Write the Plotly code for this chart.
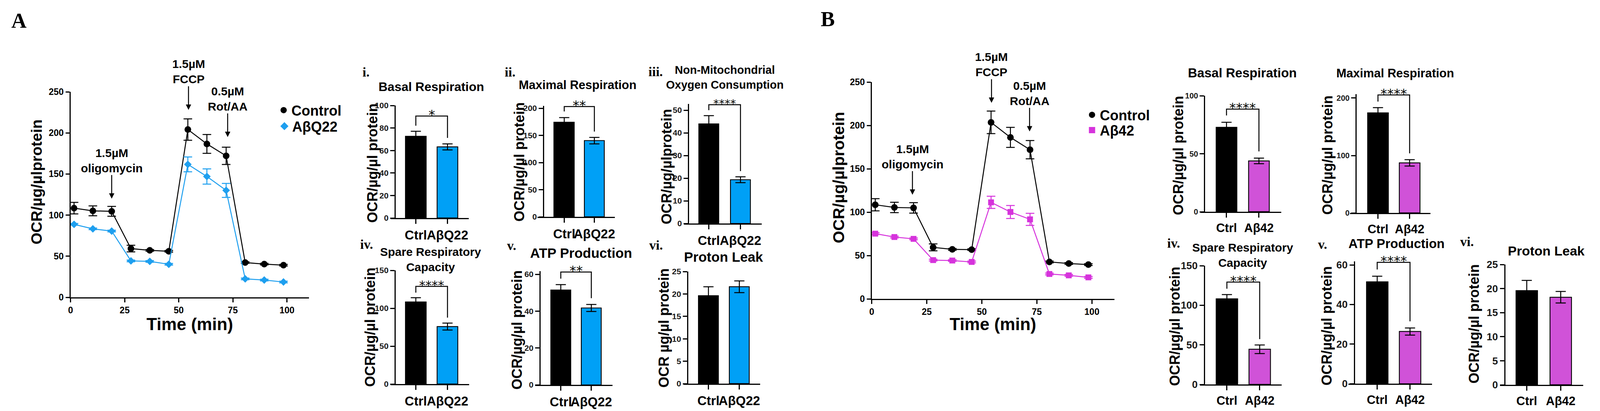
import plotly.graph_objects as go

W, H = 4194, 1052   # reference picture size used to convert measured positions into fractions

# ---------------- data: Seahorse time course ----------------
time_min = [1.6, 10.3, 19.0, 27.9, 36.6, 45.4, 54.2, 63.0, 71.9, 80.7, 89.5, 98.4]

ocr_ctrl_A = [108.5, 105.2, 104.6, 59.3, 57.1, 56.0, 204.1, 186.6, 172.1, 42.3, 40.4, 39.1]
ocr_ctrl_A_sem = [7.0, 6.0, 6.0, 4.0, 1.0, 1.0, 13.0, 11.5, 10.5, 1.0, 1.0, 1.0]
ocr_q22_A = [88.8, 83.3, 80.6, 44.3, 43.7, 40.2, 161.7, 147.0, 130.1, 22.4, 21.0, 18.6]
ocr_q22_A_sem = [1.0, 1.0, 1.0, 1.0, 1.0, 1.0, 9.0, 9.3, 8.5, 1.0, 1.0, 1.0]

ocr_ctrl_B = [108.5, 105.4, 104.9, 59.4, 57.1, 56.8, 203.5, 186.2, 172.0, 42.6, 40.8, 39.5]
ocr_ctrl_B_sem = [7.0, 6.0, 6.0, 4.0, 1.0, 1.0, 13.0, 11.5, 10.5, 1.0, 1.0, 1.0]
ocr_a42_B = [75.2, 71.3, 69.2, 44.7, 44.2, 42.6, 111.3, 100.2, 91.7, 28.7, 27.1, 24.8]
ocr_a42_B_sem = [1.0, 1.0, 1.0, 1.0, 1.0, 1.0, 7.0, 7.5, 7.0, 1.0, 1.0, 1.0]

injection_labels = ["1.5µM<br>oligomycin", "1.5µM<br>FCCP", "0.5µM<br>Rot/AA"]
injection_time_A = [19.0, 54.5, 72.6]
injection_arrow_y_A = [120, 228, 195]
injection_time_B = [18.5, 54.4, 71.7]
injection_arrow_y_B = [120, 226, 193]

time_ticks = [0, 25, 50, 75, 100]
ocr_ticks = [0, 50, 100, 150, 200, 250]

# ---------------- data: summary bars ----------------
groups_A = ["Ctrl", "AβQ22"]
groups_B = ["Ctrl", "Aβ42"]

basal_A = [72.6, 63.2]
basal_A_sem = [4.5, 2.7]
maximal_A = [174.0, 140.3]
maximal_A_sem = [8.7, 6.0]
nonmito_A = [44.0, 19.3]
nonmito_A_sem = [3.6, 1.3]
spare_A = [108.2, 75.8]
spare_A_sem = [5.7, 4.6]
atp_A = [51.5, 41.7]
atp_A_sem = [2.9, 1.9]
leak_A = [19.6, 21.6]
leak_A_sem = [2.0, 1.3]

basal_B = [72.7, 43.8]
basal_B_sem = [4.4, 2.4]
maximal_B = [174.4, 87.2]
maximal_B_sem = [9.0, 5.5]
spare_B = [108.0, 44.4]
spare_B_sem = [5.5, 5.4]
atp_B = [51.5, 26.3]
atp_B_sem = [2.8, 1.8]
leak_B = [19.6, 18.2]
leak_B_sem = [2.1, 1.2]

# ---------------- styles ----------------
BLUE_LINE = "#1E9FEF"
BLUE_BAR = "#00A0F6"
MAG_LINE = "#D633DC"
MAG_BAR = "#D052D8"
SANS = "Liberation Sans, Arial, Helvetica, sans-serif"
SERIF = "Liberation Serif, Times New Roman, serif"
STARFONT = "DejaVu Sans, sans-serif"


def fx(px):
    return px / W


def fy(py):
    return 1 - py / H


def bold(size, family=SANS, color="black"):
    return dict(family=family, size=size, color=color, weight="bold")


fig = go.Figure()
annotations = []
layout_axes = {}


def ax_key(letter, n):
    return f"{letter}axis" if n == 1 else f"{letter}axis{n}"


def ax_ref(letter, n):
    return letter if n == 1 else f"{letter}{n}"


def text(x, y, s, size, family=SANS, xanchor="center", angle=0, weight="bold"):
    annotations.append(dict(
        x=fx(x), y=fy(y), xref="paper", yref="paper", text=s, showarrow=False,
        xanchor=xanchor, yanchor="middle", textangle=angle,
        font=dict(family=family, size=size, color="black", weight=weight)))


# ---------------- time-course charts ----------------
line_charts = [
    dict(n=1, ctrl=ocr_ctrl_A, ctrl_sem=ocr_ctrl_A_sem, trt=ocr_q22_A, trt_sem=ocr_q22_A_sem,
         trt_name="AβQ22", trt_color=BLUE_LINE, trt_symbol="diamond", trt_size=15,
         inj_t=injection_time_A, inj_y=injection_arrow_y_A,
         box=(185, 810, 761, 235), xmax=110.2,
         ytitle=(95, 466, 39), xtitle=(498, 829),
         leg=("legend", "legend2", (743, 282), (745, 323))),
    dict(n=2, ctrl=ocr_ctrl_B, ctrl_sem=ocr_ctrl_B_sem, trt=ocr_a42_B, trt_sem=ocr_a42_B_sem,
         trt_name="Aβ42", trt_color=MAG_LINE, trt_symbol="square", trt_size=15,
         inj_t=injection_time_B, inj_y=injection_arrow_y_B,
         box=(2285, 2921, 765, 210), xmax=110.2,
         ytitle=(2198, 454, 41), xtitle=(2603, 829),
         leg=("legend3", "legend4", (2862, 294), (2862, 333))),
]

for lc in line_charts:
    n = lc["n"]
    xr, yr = ax_ref("x", n), ax_ref("y", n)
    for vals, sem, color, symbol, size in [
        (lc["ctrl"], lc["ctrl_sem"], "black", "circle", 17),
        (lc["trt"], lc["trt_sem"], lc["trt_color"], lc["trt_symbol"], lc["trt_size"]),
    ]:
        fig.add_trace(go.Scatter(
            x=time_min, y=vals, mode="lines+markers", xaxis=xr, yaxis=yr,
            line=dict(color=color, width=2.5),
            marker=dict(symbol=symbol, size=size, color=color),
            error_y=dict(type="data", array=sem, color=color, thickness=2.5, width=11),
            cliponaxis=False, showlegend=False, hoverinfo="skip"))
    # legend entries (marker only)
    lg1, lg2, p1, p2 = lc["leg"]
    for name, color, symbol, lg, pos in [
        ("Control", "black", "circle", lg1, p1),
        (lc["trt_name"], lc["trt_color"], lc["trt_symbol"], lg2, p2),
    ]:
        fig.add_trace(go.Scatter(
            x=[None], y=[None], mode="markers", name=name, legend=lg,
            marker=dict(symbol=symbol, size=17, color=color), xaxis=xr, yaxis=yr))
        layout_axes[lg] = dict(
            x=fx(pos[0] - 20), xanchor="left", y=fy(pos[1]), yanchor="middle",
            bgcolor="rgba(0,0,0,0)", borderwidth=0, font=bold(36))

    l, r, b, t = lc["box"]
    layout_axes[ax_key("x", n)] = dict(
        domain=[fx(l), fx(r)], range=[0, lc["xmax"]], anchor=yr,
        showline=True, linewidth=3, linecolor="black", ticks="outside", ticklen=10,
        tickwidth=2.5, tickcolor="black", tickvals=time_ticks, tickfont=bold(23),
        showgrid=False, zeroline=False)
    layout_axes[ax_key("y", n)] = dict(
        domain=[fy(b), fy(t)], range=[0, 250], anchor=xr,
        showline=True, linewidth=3, linecolor="black", ticks="outside", ticklen=10,
        tickwidth=2.5, tickcolor="black", tickvals=ocr_ticks, tickfont=bold(23),
        showgrid=False, zeroline=False)

    for lab, tt, yy in zip(injection_labels, lc["inj_t"], lc["inj_y"]):
        annotations.append(dict(
            x=tt, y=yy, xref=xr, yref=yr, text=lab, showarrow=True,
            ax=0, ay=-98, arrowhead=2, arrowsize=1.1, arrowwidth=2.5, arrowcolor="black",
            font=bold(30)))

    tx, ty, ts = lc["ytitle"]
    text(tx, ty, "OCR/µg/µlprotein", ts, angle=-90)
    text(lc["xtitle"][0], lc["xtitle"][1], "Time (min)", 44)

# ---------------- summary bar panels ----------------
bar_panels = [
    dict(vals=basal_A, sem=basal_A_sem, groups=groups_A, color=BLUE_BAR, sig="*",
         bracket=(82, 90.6, 71.2), box=(1024, 1229, 1035, 1090, 1173, 55, 558, 270),
         top=100, dtick=20, title="Basal Respiration", title_xy=(1130, 222), title_size=32,
         roman="i.", roman_xy=(948, 185), ytitle="OCR/µg/µl protein", ytitle_xy=(976, 418),
         tick_size=21, xtick_size=33, star_size=34),
    dict(vals=maximal_A, sem=maximal_A_sem, groups=groups_A, color=BLUE_BAR, sig="**",
         bracket=(194, 203, 157), box=(1409, 1612, 1424, 1479, 1558, 53, 555, 277),
         top=200, dtick=50, title="Maximal Respiration", title_xy=(1514, 217), title_size=31,
         roman="ii.", roman_xy=(1321, 185), ytitle="OCR/µg/µl protein", ytitle_xy=(1361, 415),
         tick_size=21, xtick_size=33, star_size=34),
    dict(vals=nonmito_A, sem=nonmito_A_sem, groups=groups_A, color=BLUE_BAR, sig="****",
         bracket=(50, 52.4, 23.1), box=(1793, 1997, 1804, 1858, 1941, 53, 572, 282),
         top=50, dtick=10, title="Non-Mitochondrial<br>Oxygen Consumption", title_xy=(1900, 198),
         title_size=29, roman="iii.", roman_xy=(1698, 183), ytitle="OCR/µg/µlprotein",
         ytitle_xy=(1747, 427), tick_size=21, xtick_size=33, star_size=29),
    dict(vals=spare_A, sem=spare_A_sem, groups=groups_A, color=BLUE_BAR, sig="****",
         bracket=(120.6, 128.9, 87.6), box=(1024, 1230, 1035, 1090, 1173, 55, 983, 692),
         top=150, dtick=50, title="Spare Respiratory<br>Capacity", title_xy=(1129, 664),
         title_size=30, roman="iv.", roman_xy=(942, 625), ytitle="OCR/µg/µl protein",
         ytitle_xy=(970, 838), tick_size=21, xtick_size=33, star_size=32),
    dict(vals=atp_A, sem=atp_A_sem, groups=groups_A, color=BLUE_BAR, sig="**",
         bracket=(57.6, 61.2, 47), box=(1403, 1606, 1415, 1470, 1550, 52, 985, 702),
         top=60, dtick=20, title="ATP Production", title_xy=(1523, 647), title_size=35,
         roman="v.", roman_xy=(1327, 628), ytitle="OCR/µg/µl protein", ytitle_xy=(1355, 845),
         tick_size=21, xtick_size=33, star_size=34),
    dict(vals=leak_A, sem=leak_A_sem, groups=groups_A, color=BLUE_BAR, sig=None,
         bracket=None, box=(1792, 1993, 1802, 1857, 1938, 52, 982, 695),
         top=25, dtick=5, title="Proton Leak", title_xy=(1897, 657), title_size=35,
         roman="vi.", roman_xy=(1700, 627), ytitle="OCR µg/µl protein", ytitle_xy=(1740, 840),
         tick_size=21, xtick_size=33, star_size=34),
    dict(vals=basal_B, sem=basal_B_sem, groups=groups_B, color=MAG_BAR, sig="****",
         bracket=(83, 88.5, 52), box=(3147, 3358, 3157, 3215, 3300, 55, 542, 245),
         top=100, dtick=50, title="Basal Respiration", title_xy=(3257, 187), title_size=33,
         roman=None, roman_xy=None, ytitle="OCR/µg/µl protein", ytitle_xy=(3088, 398),
         tick_size=20, xtick_size=31, star_size=34),
    dict(vals=maximal_B, sem=maximal_B_sem, groups=groups_B, color=MAG_BAR, sig="****",
         bracket=(193.8, 205.5, 103.8), box=(3539, 3750, 3554, 3612, 3695, 54, 545, 251),
         top=200, dtick=100, title="Maximal Respiration", title_xy=(3657, 188), title_size=31,
         roman=None, roman_xy=None, ytitle="OCR/µg/µl protein", ytitle_xy=(3480, 397),
         tick_size=20, xtick_size=31, star_size=34),
    dict(vals=spare_B, sem=spare_B_sem, groups=groups_B, color=MAG_BAR, sig="****",
         bracket=(120.9, 129.3, 57.2), box=(3145, 3360, 3157, 3216, 3302, 56, 984, 680),
         top=150, dtick=50, title="Spare Respiratory<br>Capacity", title_xy=(3258, 653),
         title_size=30, roman="iv.", roman_xy=(3057, 622), ytitle="OCR/µg/µl protein",
         ytitle_xy=(3079, 836), tick_size=26, xtick_size=31, star_size=34),
    dict(vals=atp_B, sem=atp_B_sem, groups=groups_B, color=MAG_BAR, sig="****",
         bracket=(57.7, 61.3, 31.5), box=(3535, 3754, 3550, 3610, 3696, 56, 982, 678),
         top=60, dtick=20, title="ATP Production", title_xy=(3661, 623), title_size=33,
         roman="v.", roman_xy=(3453, 625), ytitle="OCR/µg/µl protein", ytitle_xy=(3477, 834),
         tick_size=26, xtick_size=31, star_size=34),
    dict(vals=leak_B, sem=leak_B_sem, groups=groups_B, color=MAG_BAR, sig=None,
         bracket=None, box=(3932, 4150, 3944, 4002, 4091, 56, 985, 677),
         top=25, dtick=5, title="Proton Leak", title_xy=(4053, 642), title_size=34,
         roman="vi.", roman_xy=(3825, 618), ytitle="OCR/µg/µl protein", ytitle_xy=(3863, 829),
         tick_size=26, xtick_size=31, star_size=34),
]

for i, p in enumerate(bar_panels):
    n = i + 3
    xr, yr = ax_ref("x", n), ax_ref("y", n)
    bl, br, yax, c0, c1, bw, y0, ytop = p["box"]
    spacing = c1 - c0
    lo = -(c0 - bl) / spacing
    hi = 1 + (br - c1) / spacing
    k = (y0 - ytop) / p["top"]           # pixels per unit
    rng_top = p["top"]
    if p["bracket"] is not None:
        rng_top = max(rng_top, p["bracket"][1] + 2.0 / k)
    dom_top_px = y0 - rng_top * k

    fig.add_trace(go.Bar(
        x=p["groups"], y=p["vals"], xaxis=xr, yaxis=yr, width=bw / spacing,
        marker=dict(color=["black", p["color"]], line=dict(color="black", width=2.2)),
        error_y=dict(type="data", array=p["sem"], color="black", thickness=2.5, width=13),
        showlegend=False, hoverinfo="skip"))

    if p["bracket"] is not None:
        left_y, top_y, right_y = p["bracket"]
        g0, g1 = p["groups"]
        fig.add_trace(go.Scatter(
            x=[g0, g0, g1, g1], y=[left_y, top_y, top_y, right_y], mode="lines",
            line=dict(color="black", width=2.5), xaxis=xr, yaxis=yr,
            showlegend=False, hoverinfo="skip", cliponaxis=False))
        annotations.append(dict(
            x=0.5, y=top_y, xref=xr, yref=yr, text=p["sig"], showarrow=False,
            xanchor="center", yanchor="middle", yshift=3,
            font=dict(family=STARFONT, size=p["star_size"], color="black")))

    layout_axes[ax_key("x", n)] = dict(
        domain=[fx(bl), fx(br)], range=[lo, hi], anchor=yr, type="category",
        categoryorder="array", categoryarray=p["groups"], tickangle=0,
        showline=True, linewidth=3, linecolor="black", ticks="outside", ticklen=12,
        tickwidth=2.5, tickcolor="black", tickfont=bold(p["xtick_size"]),
        showgrid=False, zeroline=False)
    layout_axes[ax_key("y", n)] = dict(
        domain=[fy(y0), fy(dom_top_px)], range=[0, rng_top], anchor="free", position=fx(yax),
        showline=True, linewidth=3, linecolor="black", ticks="outside", ticklen=11,
        tickwidth=2.5, tickcolor="black",
        tickvals=list(range(0, p["top"] + 1, p["dtick"])), tickfont=bold(p["tick_size"], color="#1a1a1a"),
        showgrid=False, zeroline=False)

    text(p["title_xy"][0], p["title_xy"][1], p["title"], p["title_size"])
    text(p["ytitle_xy"][0], p["ytitle_xy"][1], p["ytitle"], 36, angle=-90)
    if p["roman"]:
        text(p["roman_xy"][0], p["roman_xy"][1], p["roman"], 34, family=SERIF, xanchor="left")

# panel letters
text(50, 53, "A", 54, family=SERIF)
text(2170, 49, "B", 54, family=SERIF)

fig.update_layout(
    autosize=True, margin=dict(l=0, r=0, t=0, b=0, pad=0, autoexpand=False),
    paper_bgcolor="white", plot_bgcolor="rgba(0,0,0,0)",
    annotations=annotations, showlegend=True, bargap=0,
    **layout_axes)

fig.write_html("out.html", config={"displayModeBar": False},
               default_width="100vw", default_height="100vh",
               post_script="document.body.style.margin='0';document.body.style.overflow='hidden';")
